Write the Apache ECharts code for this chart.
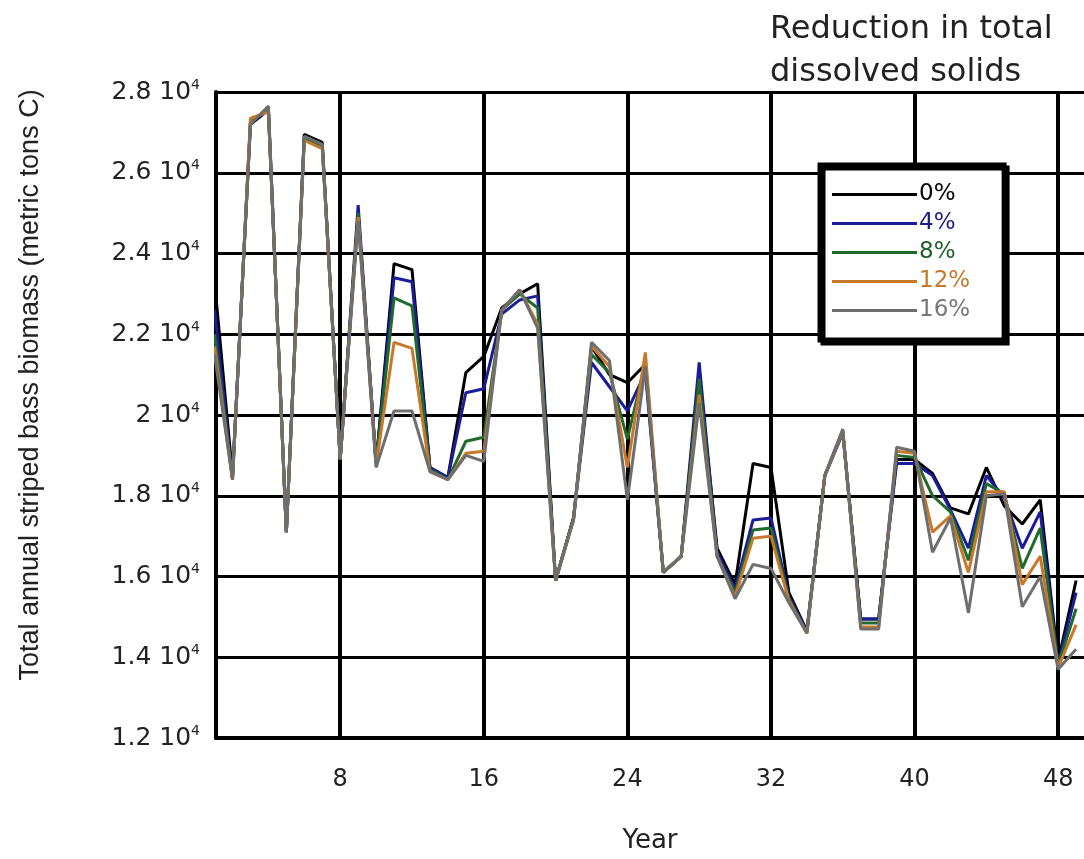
<!DOCTYPE html>
<html><head><meta charset="utf-8">
<script src="https://cdn.jsdelivr.net/npm/echarts@6/dist/echarts.min.js"></script>
<style>html,body{margin:0;padding:0;background:#fff}#c{width:1084px;height:859px}</style>
</head><body><div id="c"></div>
<script>
const years = [1,2,3,4,5,6,7,8,9,10,11,12,13,14,15,16,17,18,19,20,21,22,23,24,25,26,27,28,29,30,31,32,33,34,35,36,37,38,39,40,41,42,43,44,45,46,47,48,49];
const red0 = [23300,18500,27200,27550,17100,26950,26750,18900,25000,18800,23750,23600,18700,18450,21050,21450,22650,23000,23250,15900,17450,21700,21000,20800,21250,16100,16500,21000,16700,15800,18800,18700,15600,14650,18500,19600,14950,14950,18900,18900,18550,17700,17550,18700,17750,17300,17900,13900,15900];
const red4 = [22600,18450,27250,27550,17100,26900,26700,18900,25200,18800,23400,23300,18700,18450,20550,20650,22500,22850,22950,15900,17450,21300,20700,20100,21050,16100,16500,21300,16600,15700,17400,17450,15500,14650,18500,19550,14950,14950,18800,18800,18500,17650,16700,18500,17950,16700,17600,13850,15600];
const red8 = [22000,18400,27300,27550,17100,26850,26650,18900,25000,18800,22900,22700,18650,18400,19350,19450,22600,23000,22650,15900,17450,21500,21050,19400,21300,16100,16500,20900,16500,15600,17150,17200,15450,14600,18500,19600,14850,14850,19000,18950,18000,17600,16400,18300,18050,16200,17200,13800,15200];
const red12 = [21700,18400,27350,27500,17100,26800,26600,18900,24900,18750,21800,21650,18600,18400,19050,19100,22600,23100,22250,15900,17400,21700,21200,18700,21550,16100,16500,20500,16500,15500,16950,17000,15400,14600,18500,19600,14750,14750,19100,19050,17100,17500,16100,18100,18100,15800,16500,13750,14800];
const red16 = [21500,18400,27200,27650,17100,26900,26700,18900,24800,18700,20100,20100,18600,18400,19000,18850,22600,23100,22150,15900,17400,21800,21350,17900,21200,16100,16500,20300,16500,15450,16300,16200,15350,14600,18500,19650,14700,14700,19200,19100,16600,17450,15100,18000,18050,15250,16000,13700,14200];
const seriesNames = ['0%','4%','8%','12%','16%'];
const xTicks = [8,16,24,32,40,48];
const yMin = 12000, yMax = 28000, yStep = 2000;

const colors = ['#000000','#1c1c9a','#1f6a2c','#c8782a','#6e6e6e'];
const textColors = ['#000000','#1c1c8c','#1f5e28','#c8782a','#777777'];
const all = [red0, red4, red8, red12, red16];

const chart = echarts.init(document.getElementById('c'), null, {renderer:'canvas'});
chart.setOption({
  animation:false,
  backgroundColor:'#fff',
  title:{text:'Reduction in total\ndissolved solids', left:765, top:3,
    textStyle:{fontFamily:'DejaVu Sans', fontSize:32, fontWeight:'normal', color:'#222', lineHeight:43}},
  legend:{orient:'vertical', left:820, top:165, padding:[18,34,18,12], itemGap:6,
    itemWidth:85, itemHeight:3, icon:'rect', borderColor:'#000', borderWidth:5,
    backgroundColor:'#fff', shadowColor:'#000', shadowOffsetX:3, shadowOffsetY:3, shadowBlur:0,
    textStyle:{fontFamily:'DejaVu Sans', fontSize:23, padding:[0,0,0,-3]},
    data: seriesNames.map((n,i)=>({name:n, textStyle:{color:textColors[i]}}))},
  grid:{left:216, right:0, top:92, bottom:111, containLabel:false},
  xAxis:{type:'value', min:1.08, max:49.44,
    axisLine:{show:true, lineStyle:{color:'#000', width:4}},
    axisTick:{show:false, customValues:xTicks},
    splitLine:{show:true, lineStyle:{color:'#000', width:4}},
    axisLabel:{customValues:xTicks, fontFamily:'DejaVu Sans', fontSize:24, color:'#222', margin:30},
    name:'Year', nameLocation:'middle', nameGap:90,
    nameTextStyle:{fontFamily:'DejaVu Sans', fontSize:26, color:'#222'}},
  yAxis:{type:'value', min:yMin, max:yMax, interval:yStep,
    axisLine:{show:true, lineStyle:{color:'#000', width:4}},
    axisTick:{show:false},
    splitLine:{show:true, lineStyle:{color:'#000', width:3}},
    axisLabel:{margin:16, formatter:function(v){const m=Math.round(v/1000)/10; return '{a|'+m+' 10}{b|4}';},
      rich:{a:{fontFamily:'DejaVu Sans', fontSize:25, color:'#222', lineHeight:28},
            b:{fontFamily:'DejaVu Sans', fontSize:14, color:'#222', verticalAlign:'top', lineHeight:28}}},
    name:'Total annual striped bass biomass (metric tons C)', nameLocation:'middle', nameRotate:90, nameGap:172,
    nameTextStyle:{fontFamily:'Liberation Sans', fontSize:27, color:'#222', padding:[0,0,0,60]}},
  series: all.map((arr,i)=>({name:seriesNames[i], type:'line', showSymbol:false, symbol:'none',
    data: years.map((y,j)=>[y, arr[j]]),
    lineStyle:{color:colors[i], width:3}, itemStyle:{color:colors[i]}, z:2+i}))
});
</script></body></html>
